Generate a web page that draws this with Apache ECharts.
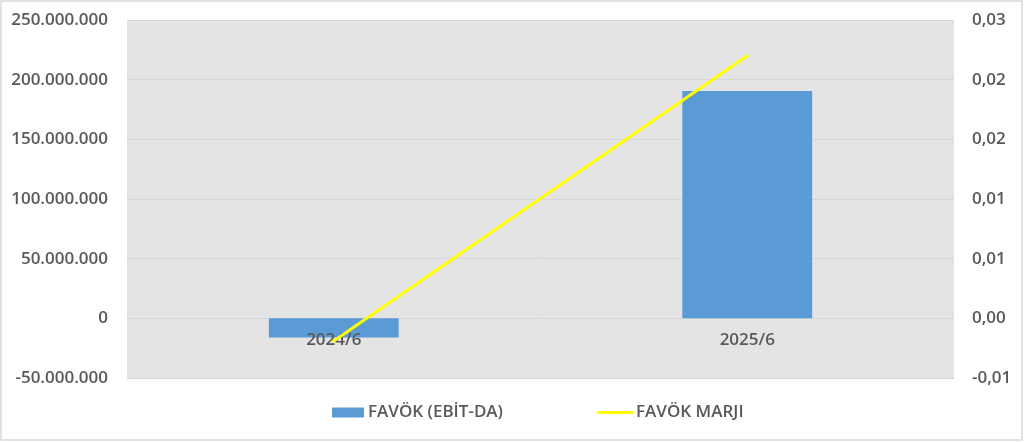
<!DOCTYPE html>
<html>
<head>
<meta charset="utf-8">
<script src="https://cdn.jsdelivr.net/npm/echarts@6/dist/echarts.min.js"></script>
<style>
html,body{margin:0;padding:0;background:#fff;}
#c{width:1024px;height:442px;}
</style>
</head>
<body>
<div id="c"></div>
<script>
var categories = ['2024/6', '2025/6'];
var favokValues = [-16000000, 190500000];
var marjiValues = [-0.0019, 0.022];
var seriesNames = ['FAVÖK (EBİT-DA)', 'FAVÖK MARJI'];
var leftMin = -50000000, leftMax = 250000000, leftStep = 50000000;
var rightMin = -0.005, rightMax = 0.025, rightStep = 0.005;

var FONT = 'Open Sans';
var TXT = '#595959';
var FS = 17;
var FW = 600;

var H = 442, GRID_TOP = 20, GRID_BOTTOM = 64;
var gridH = H - GRID_TOP - GRID_BOTTOM;
// place category axis at the zero line of the left value axis
var zeroOffset = -((0 - leftMin) / (leftMax - leftMin)) * gridH;

function fmtLeft(v) {
  var s = Math.abs(Math.round(v)).toString().replace(/\B(?=(\d{3})+(?!\d))/g, '.');
  return (v < 0 ? '-' : '') + s;
}
function fmtRight(v) {
  var a = Math.round(Math.abs(v) * 100 + 1e-9) / 100;
  var s = a.toFixed(2).replace('.', ',');
  return (v < 0 && a > 0 ? '-' : '') + s;
}

var chart = echarts.init(document.getElementById('c'), null, {renderer: 'canvas'});
chart.setOption({
  animation: false,
  backgroundColor: '#fff',
  textStyle: {fontFamily: FONT},
  graphic: [{
    type: 'rect', silent: true,
    shape: {x: 1, y: 1, width: 1021, height: 439},
    style: {fill: 'none', stroke: '#D9D9D9', lineWidth: 1.5}
  }],
  grid: {
    left: 127, right: 70, top: GRID_TOP, bottom: GRID_BOTTOM,
    show: true, backgroundColor: '#E4E4E4', borderWidth: 0
  },
  legend: [{
    data: [seriesNames[0]],
    left: 332, top: 404, padding: 0,
    itemWidth: 32, itemHeight: 10, itemGap: 4,
    icon: 'rect',
    textStyle: {color: TXT, fontSize: FS, fontWeight: FW, fontFamily: FONT, padding: [0, 0, 0, -1]}
  }, {
    data: [seriesNames[1]],
    left: 597, top: 404, padding: 0,
    itemWidth: 36, itemHeight: 3, itemGap: 4,
    icon: 'rect',
    textStyle: {color: TXT, fontSize: FS, fontWeight: FW, fontFamily: FONT, padding: [0, 0, 0, -2]}
  }],
  xAxis: {
    type: 'category',
    data: categories,
    offset: zeroOffset,
    z: 3,
    axisLine: {show: false, onZero: false},
    axisTick: {show: false},
    axisLabel: {color: TXT, fontSize: FS, fontWeight: FW, fontFamily: FONT, margin: 13}
  },
  yAxis: [{
    type: 'value',
    min: leftMin, max: leftMax, interval: leftStep,
    axisLine: {show: false}, axisTick: {show: false},
    splitLine: {lineStyle: {color: '#D6D6D6', width: 1}},
    axisLabel: {color: TXT, fontSize: FS, fontWeight: FW, fontFamily: FONT, margin: 19, formatter: fmtLeft}
  }, {
    type: 'value',
    min: rightMin, max: rightMax, interval: rightStep,
    axisLine: {show: false}, axisTick: {show: false},
    splitLine: {show: false},
    axisLabel: {color: TXT, fontSize: FS, fontWeight: FW, fontFamily: FONT, margin: 18, formatter: fmtRight}
  }],
  series: [{
    name: seriesNames[0],
    type: 'bar',
    data: favokValues,
    yAxisIndex: 0,
    z: 2,
    barWidth: '31.4%',
    itemStyle: {color: '#5B9BD5'}
  }, {
    name: seriesNames[1],
    type: 'line',
    data: marjiValues,
    yAxisIndex: 1,
    symbol: 'none',
    z: 5,
    lineStyle: {color: '#FFFF00', width: 3, cap: 'round'},
    itemStyle: {color: '#FFFF00'}
  }]
});
</script>
</body>
</html>
